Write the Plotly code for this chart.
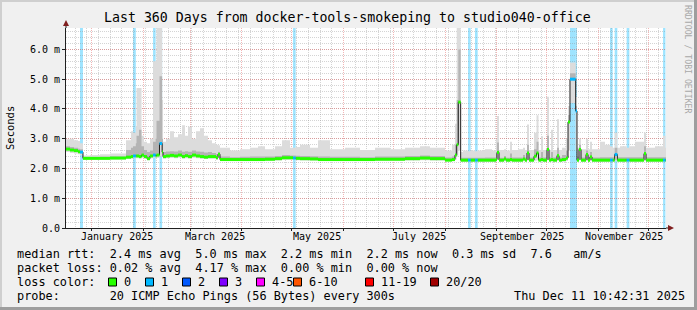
import plotly.graph_objects as go

# ---------------- data ----------------
start_time = "2024-12-16 10:42:31"
end_time = "2025-12-11 10:42:31"

dates = [
    "2024-12-16 10:42", "2024-12-18 20:00", "2024-12-21 06:00", "2024-12-23 16:00", "2024-12-24 20:00",
    "2024-12-26 15:00", "2024-12-30 20:00", "2025-01-05 20:00", "2025-01-11 20:00", "2025-01-17 20:00",
    "2025-01-21 11:00", "2025-01-24 11:00", "2025-01-25 16:00", "2025-01-27 08:00", "2025-01-27 18:00",
    "2025-01-29 06:00", "2025-01-30 18:00", "2025-02-01 06:00", "2025-02-03 01:00", "2025-02-04 20:00",
    "2025-02-06 16:00", "2025-02-08 06:00", "2025-02-08 18:00", "2025-02-10 13:00", "2025-02-12 03:00",
    "2025-02-12 16:00", "2025-02-14 11:00", "2025-02-16 20:00", "2025-02-19 06:00", "2025-02-21 16:00",
    "2025-02-24 01:00", "2025-02-25 20:00", "2025-02-27 16:00", "2025-03-02 01:00", "2025-03-04 11:00",
    "2025-03-06 20:00", "2025-03-09 06:00", "2025-03-11 16:00", "2025-03-14 01:00", "2025-03-16 11:00",
    "2025-03-17 16:00", "2025-03-18 20:00", "2025-03-24 20:00", "2025-03-30 20:00", "2025-04-05 20:00",
    "2025-04-10 16:00", "2025-04-14 20:00", "2025-04-20 20:00", "2025-04-25 01:00", "2025-04-29 20:00",
    "2025-05-01 16:00", "2025-05-03 06:00", "2025-05-05 20:00", "2025-05-11 20:00", "2025-05-16 16:00",
    "2025-05-23 20:00", "2025-06-01 20:00", "2025-06-10 20:00", "2025-06-19 20:00", "2025-06-28 20:00",
    "2025-07-07 20:00", "2025-07-16 20:00", "2025-07-22 20:00", "2025-07-31 20:00", "2025-08-05 01:00",
    "2025-08-06 20:00", "2025-08-07 21:00", "2025-08-08 20:00", "2025-08-10 06:00", "2025-08-11 16:00",
    "2025-08-14 16:00", "2025-08-16 06:00", "2025-08-18 20:00", "2025-08-20 11:00", "2025-08-24 20:00",
    "2025-08-29 01:00", "2025-08-31 11:00", "2025-09-01 01:00", "2025-09-02 06:00", "2025-09-05 06:00",
    "2025-09-06 11:00", "2025-09-08 20:00", "2025-09-10 01:00", "2025-09-13 16:00", "2025-09-16 16:00",
    "2025-09-17 20:00", "2025-09-19 01:00", "2025-09-20 06:00", "2025-09-23 06:00", "2025-09-24 18:00",
    "2025-09-25 23:00", "2025-09-27 11:00", "2025-09-28 16:00", "2025-10-01 01:00", "2025-10-02 06:00",
    "2025-10-03 11:00", "2025-10-04 16:00", "2025-10-07 01:00", "2025-10-08 06:00", "2025-10-10 01:00",
    "2025-10-12 11:00", "2025-10-13 16:00", "2025-10-14 20:00", "2025-10-18 06:00", "2025-10-19 01:00",
    "2025-10-20 06:00", "2025-10-21 11:00", "2025-10-24 11:00", "2025-10-25 16:00", "2025-10-26 20:00",
    "2025-10-28 01:00", "2025-11-01 20:00", "2025-11-04 20:00", "2025-11-07 20:00", "2025-11-09 11:00",
    "2025-11-10 16:00", "2025-11-12 06:00", "2025-11-13 20:00", "2025-11-17 20:00", "2025-11-19 11:00",
    "2025-11-22 20:00", "2025-11-28 06:00", "2025-11-29 11:00", "2025-12-04 20:00", "2025-12-09 16:00",
    "2025-12-11 03:00", "2025-12-11 10:42",
]

# median round trip time (ms)
median = [
    2.65, 2.62, 2.60, 2.56, 2.55, 2.34, 2.34, 2.34, 2.35, 2.35,
    2.38, 2.40, 2.42, 2.42, 2.42, 2.40, 2.45, 2.40, 2.33, 2.42,
    2.45, 2.42, 2.45, 2.84, 2.55, 2.40, 2.42, 2.44, 2.42, 2.45,
    2.40, 2.43, 2.40, 2.45, 2.42, 2.40, 2.38, 2.40, 2.40, 2.36,
    2.48, 2.30, 2.30, 2.30, 2.30, 2.30, 2.31, 2.33, 2.36, 2.36,
    2.35, 2.34, 2.33, 2.32, 2.30, 2.30, 2.30, 2.30, 2.31, 2.31,
    2.33, 2.35, 2.33, 2.28, 2.30, 2.45, 2.80, 4.23, 2.28, 2.28,
    2.28, 2.28, 2.28, 2.28, 2.28, 2.28, 2.30, 2.54, 2.28, 2.32,
    2.28, 2.30, 2.28, 2.28, 2.32, 2.28, 2.52, 2.28, 2.41, 2.52,
    2.28, 2.30, 2.28, 2.64, 2.28, 2.30, 2.28, 2.43, 2.28, 2.30,
    2.35, 3.56, 5.00, 3.93, 2.28, 2.64, 2.28, 2.47, 2.28, 2.39,
    2.28, 2.28, 2.28, 2.28, 2.28, 2.47, 2.28, 2.28, 2.28, 2.28,
    2.28, 2.50, 2.28, 2.28, 2.28, 2.28, 2.28,
]

# smoke: lowest ping, upper edge of the dense (dark) smoke, highest ping (ms)
smoke_lo = [
    2.55, 2.52, 2.50, 2.48, 2.45, 2.30, 2.30, 2.30, 2.30, 2.31,
    2.32, 2.33, 2.34, 2.34, 2.34, 2.33, 2.35, 2.33, 2.28, 2.34,
    2.36, 2.34, 2.35, 2.40, 2.38, 2.33, 2.34, 2.35, 2.34, 2.36,
    2.33, 2.34, 2.33, 2.36, 2.34, 2.33, 2.32, 2.33, 2.33, 2.30,
    2.36, 2.26, 2.26, 2.26, 2.26, 2.26, 2.26, 2.27, 2.29, 2.29,
    2.29, 2.28, 2.27, 2.27, 2.26, 2.26, 2.26, 2.26, 2.26, 2.26,
    2.27, 2.28, 2.27, 2.24, 2.24, 2.30, 2.40, 2.60, 2.22, 2.22,
    2.22, 2.22, 2.22, 2.22, 2.22, 2.22, 2.23, 2.30, 2.22, 2.24,
    2.22, 2.23, 2.22, 2.22, 2.24, 2.22, 2.28, 2.22, 2.26, 2.28,
    2.22, 2.23, 2.22, 2.30, 2.22, 2.23, 2.22, 2.26, 2.22, 2.23,
    2.25, 2.60, 4.20, 2.60, 2.22, 2.30, 2.22, 2.26, 2.22, 2.25,
    2.22, 2.22, 2.22, 2.22, 2.22, 2.25, 2.22, 2.22, 2.22, 2.22,
    2.22, 2.25, 2.22, 2.22, 2.22, 2.22, 2.22,
]
smoke_mid = [
    2.75, 2.72, 2.70, 2.66, 2.65, 2.38, 2.38, 2.39, 2.40, 2.40,
    2.62, 2.70, 2.75, 2.85, 3.10, 3.30, 2.75, 2.62, 2.55, 2.60,
    2.90, 3.00, 3.60, 5.10, 3.00, 2.55, 2.57, 2.58, 2.57, 2.60,
    2.56, 2.58, 2.56, 2.60, 2.57, 2.56, 2.54, 2.55, 2.52, 2.48,
    2.55, 2.40, 2.38, 2.39, 2.40, 2.40, 2.40, 2.42, 2.45, 2.44,
    2.44, 2.43, 2.42, 2.41, 2.40, 2.39, 2.39, 2.38, 2.40, 2.40,
    2.42, 2.44, 2.42, 2.37, 2.40, 2.80, 4.30, 6.00, 2.36, 2.36,
    2.36, 2.36, 2.36, 2.36, 2.37, 2.37, 2.50, 2.87, 2.36, 2.42,
    2.36, 2.50, 2.37, 2.37, 2.45, 2.37, 2.80, 2.37, 2.65, 2.90,
    2.37, 2.55, 2.37, 3.10, 2.37, 2.55, 2.37, 2.70, 2.37, 2.45,
    2.60, 3.80, 5.20, 4.10, 2.40, 2.80, 2.37, 2.60, 2.37, 2.55,
    2.37, 2.38, 2.38, 2.38, 2.38, 2.70, 2.38, 2.38, 2.38, 2.38,
    2.38, 2.75, 2.38, 2.38, 2.38, 2.38, 2.38,
]
smoke_hi = [
    2.98, 3.00, 2.95, 2.92, 2.85, 2.44, 2.45, 2.48, 2.50, 2.50,
    2.95, 3.25, 3.20, 3.40, 4.70, 4.70, 3.10, 2.90, 2.85, 3.00,
    5.60, 5.60, 6.72, 6.72, 4.30, 2.90, 3.00, 3.25, 3.05, 3.15,
    3.45, 3.10, 3.40, 3.00, 3.25, 3.35, 3.10, 2.95, 2.85, 2.80,
    2.78, 2.70, 2.60, 2.65, 2.70, 2.75, 2.65, 2.75, 2.95, 2.70,
    2.70, 2.72, 2.80, 2.70, 2.95, 2.65, 2.70, 2.62, 2.70, 2.65,
    2.70, 2.75, 2.70, 2.60, 2.80, 3.50, 6.72, 6.72, 2.55, 2.60,
    2.58, 2.60, 2.58, 2.60, 2.65, 2.60, 3.00, 3.76, 2.62, 2.65,
    2.60, 2.90, 2.62, 2.65, 2.70, 2.62, 3.48, 2.62, 3.20, 3.79,
    2.62, 3.08, 2.62, 4.41, 2.62, 3.30, 2.62, 3.65, 2.62, 2.70,
    3.00, 4.10, 5.56, 4.40, 2.70, 3.00, 2.65, 3.00, 2.65, 2.90,
    2.65, 2.90, 2.80, 2.75, 2.70, 3.20, 2.70, 2.75, 2.70, 2.75,
    2.90, 3.20, 2.70, 2.75, 3.10, 2.70, 2.70,
]
# lost pings (of 20) in each interval
loss = [
    0, 0, 0, 0, 1, 0, 0, 0, 0, 0,
    0, 0, 1, 0, 0, 0, 0, 0, 0, 0,
    1, 0, 0, 1, 0, 0, 0, 0, 0, 0,
    0, 0, 0, 0, 0, 0, 0, 0, 0, 0,
    0, 0, 0, 0, 0, 0, 0, 0, 0, 0,
    1, 0, 0, 0, 0, 0, 0, 0, 0, 0,
    0, 0, 0, 0, 0, 0, 0, 0, 0, 0,
    1, 0, 1, 0, 0, 0, 0, 0, 0, 0,
    0, 0, 0, 0, 0, 0, 0, 0, 0, 0,
    0, 0, 0, 0, 0, 0, 0, 0, 0, 0,
    0, 0, 1, 1, 0, 0, 0, 0, 0, 0,
    0, 0, 0, 1, 0, 1, 0, 0, 1, 0,
    0, 0, 0, 0, 1, 0, 0,
]
assert len(dates) == len(median) == len(smoke_lo) == len(smoke_mid) == len(smoke_hi) == len(loss)

y_tick_values = [0, 1, 2, 3, 4, 5, 6]
y_tick_labels = ["0.0", "1.0 m", "2.0 m", "3.0 m", "4.0 m", "5.0 m", "6.0 m"]
month_label_dates = ["2025-01-16", "2025-03-16", "2025-05-16", "2025-07-16", "2025-09-16", "2025-11-16"]
month_label_texts = ["January 2025", "March 2025", "May 2025", "July 2025", "September 2025", "November 2025"]

title_text = "Last 360 Days from docker-tools-smokeping to studio040-office"
legend_rtt = "median rtt:  2.4 ms avg  5.0 ms max  2.2 ms min  2.2 ms now  0.3 ms sd  7.6   am/s"
legend_loss = "packet loss: 0.02 % avg  4.17 % max  0.00 % min  0.00 % now"
legend_color_title = "loss color:"
loss_color_labels = ["0", "1", "2", "3", "4-5", "6-10", "11-19", "20/20"]
loss_color_values = ["#26ff00", "#00b8ff", "#0059ff", "#7e00ff", "#ff00ff", "#ff5500", "#ff0000", "#a10000"]
legend_probe = "probe:       20 ICMP Echo Pings (56 Bytes) every 300s"
timestamp_text = "Thu Dec 11 10:42:31 2025"
watermark_text = "RRDTOOL / TOBI OETIKER"
y_title = "Seconds"

# ---------------- layout geometry ----------------
W, H = 697, 310
L, R, T, B = 66, 666, 28, 228
YMAX = 6.72
MONO = "DejaVu Sans Mono"


def fx(px):
    return (px - L) / (R - L)


def fy(py):
    return (B - py) / (B - T)


fig = go.Figure()

# smoke: light envelope
fig.add_trace(go.Scatter(x=dates, y=smoke_lo, mode="lines", line=dict(width=0, shape="hv"),
                         hoverinfo="skip", showlegend=False))
fig.add_trace(go.Scatter(x=dates, y=smoke_hi, mode="lines", line=dict(width=0, shape="hv"),
                         fill="tonexty", fillcolor="#dcdcdc", hoverinfo="skip", showlegend=False))
# smoke: dense part just above the median
fig.add_trace(go.Scatter(x=dates, y=median, mode="lines", line=dict(width=0, shape="hv"),
                         hoverinfo="skip", showlegend=False))
fig.add_trace(go.Scatter(x=dates, y=smoke_mid, mode="lines", line=dict(width=0, shape="hv"),
                         fill="tonexty", fillcolor="#b4b4b4", hoverinfo="skip", showlegend=False))
# median thin dark line
fig.add_trace(go.Scatter(x=dates, y=median, mode="lines", line=dict(width=1, color="#202020", shape="hv"),
                         hoverinfo="skip", showlegend=False))

# median coloured by loss
seg = {}
for i in range(len(dates) - 1):
    c = loss_color_values[min(loss[i], 1)] if loss[i] <= 1 else loss_color_values[2]
    xs, ys = seg.setdefault(c, ([], []))
    xs += [dates[i], dates[i + 1], None]
    ys += [median[i], median[i], None]
for c, (xs, ys) in seg.items():
    fig.add_trace(go.Scatter(x=xs, y=ys, mode="lines", line=dict(width=3, color=c),
                             hoverinfo="skip", showlegend=False, connectgaps=False))

shapes = []
# loss background bars
for i in range(len(dates) - 1):
    if loss[i] > 0:
        shapes.append(dict(type="rect", xref="x", yref="paper", x0=dates[i], x1=dates[i + 1],
                           y0=0, y1=1, fillcolor="rgba(0,184,255,0.38)", line=dict(width=0),
                           layer="between"))

# image frame shading
shapes += [
    dict(type="rect", xref="paper", yref="paper", x0=fx(0), x1=fx(W), y0=fy(2), y1=fy(0),
         fillcolor="#cfcfcf", line=dict(width=0), layer="above"),
    dict(type="rect", xref="paper", yref="paper", x0=fx(0), x1=fx(2), y0=fy(H), y1=fy(0),
         fillcolor="#cfcfcf", line=dict(width=0), layer="above"),
    dict(type="rect", xref="paper", yref="paper", x0=fx(0), x1=fx(W), y0=fy(H), y1=fy(H - 3),
         fillcolor="#9e9e9e", line=dict(width=0), layer="above"),
    dict(type="rect", xref="paper", yref="paper", x0=fx(W - 3), x1=fx(W), y0=fy(H), y1=fy(0),
         fillcolor="#9e9e9e", line=dict(width=0), layer="above"),
]

# axis extensions and arrows
AX = "#1f1f1f"
ARROW = "#801f1f"
shapes += [
    dict(type="line", xref="paper", yref="paper", x0=fx(R), x1=fx(669), y0=0, y1=0,
         line=dict(color=AX, width=1), layer="above"),
    dict(type="path", xref="paper", yref="paper",
         path=f"M {fx(668)},{fy(225)} L {fx(674)},{fy(228)} L {fx(668)},{fy(231)} Z",
         fillcolor=ARROW, line=dict(color=ARROW, width=0), layer="above"),
    dict(type="line", xref="paper", yref="paper", x0=0, x1=0, y0=1, y1=fy(25),
         line=dict(color=AX, width=1), layer="above"),
    dict(type="path", xref="paper", yref="paper",
         path=f"M {fx(63)},{fy(26)} L {fx(66)},{fy(20)} L {fx(69)},{fy(26)} Z",
         fillcolor=ARROW, line=dict(color=ARROW, width=0), layer="above"),
]

annotations = []


def txt(s, px, py, size=11.85, color="#000000", xanchor="left", angle=0):
    annotations.append(dict(text=s.replace(" ", "\u00a0"), x=fx(px), y=fy(py), xref="paper", yref="paper",
                            showarrow=False, xanchor=xanchor, yanchor="middle", borderpad=0,
                            textangle=angle, font=dict(family=MONO, size=size, color=color)))


txt(title_text, 347, 18, size=13.25, xanchor="center")
txt(y_title, 10, 128, size=10.5, xanchor="center", angle=-90)
txt(watermark_text, 688, 59, size=8.2, color="#a8a8a8", xanchor="center", angle=90)

for d, t in zip(month_label_dates, month_label_texts):
    annotations.append(dict(text=t, x=d, y=fy(236.5), xref="x", yref="paper", showarrow=False,
                            xanchor="center", yanchor="middle", borderpad=0,
                            font=dict(family=MONO, size=10, color="#000000")))

txt(legend_rtt, 16, 254)
txt(legend_loss, 16, 268)
txt(legend_color_title, 16, 282)
txt(legend_probe, 16, 296)
txt(timestamp_text, 513, 296)

box_x = [108.5, 145.5, 182.5, 219.5, 256.5, 293.5, 365.5, 430.5]
label_x = [123, 160, 197, 234, 270.5, 308, 379.5, 445]
for bx, lx, lab, col in zip(box_x, label_x, loss_color_labels, loss_color_values):
    shapes.append(dict(type="rect", xref="paper", yref="paper", x0=fx(bx), x1=fx(bx + 8),
                       y0=fy(286), y1=fy(278), fillcolor=col, line=dict(color="#000000", width=1),
                       layer="above"))
    txt(lab, lx, 282)

GRID = "rgba(143,143,143,0.38)"
MGRID = "rgba(222,79,79,0.42)"

fig.update_layout(
    width=W, height=H,
    margin=dict(l=L, r=W - R, t=T, b=H - B, pad=0),
    paper_bgcolor="#f0f0f0",
    plot_bgcolor="#ffffff",
    showlegend=False,
    shapes=shapes,
    annotations=annotations,
    xaxis=dict(
        type="date", range=[start_time, end_time], fixedrange=True,
        tickmode="linear", tick0="2025-01-01", dtick="M1",
        showticklabels=False, ticks="outside", ticklen=2, tickcolor=AX,
        showgrid=True, gridcolor=MGRID, griddash="1px,1px", gridwidth=1,
        minor=dict(tickmode="linear", tick0="2025-01-05", dtick=7 * 86400000,
                   showgrid=True, gridcolor=GRID, griddash="1px,1px", gridwidth=1,
                   ticks="", ticklen=0),
        showline=True, linecolor=AX, linewidth=1, zeroline=False,
        layer="above traces",
    ),
    yaxis=dict(
        range=[0, YMAX], fixedrange=True,
        tickmode="array", tickvals=y_tick_values, ticktext=y_tick_labels,
        ticks="outside", ticklen=3, tickcolor=AX,
        tickfont=dict(family=MONO, size=10, color="#000000"),
        showgrid=True, gridcolor=MGRID, griddash="1px,1px", gridwidth=1,
        minor=dict(tickmode="linear", tick0=0, dtick=0.2,
                   showgrid=True, gridcolor=GRID, griddash="1px,1px", gridwidth=1),
        showline=True, linecolor=AX, linewidth=1, zeroline=False,
        layer="above traces",
    ),
)

fig.write_html("out.html", config={"displayModeBar": False, "staticPlot": True})
